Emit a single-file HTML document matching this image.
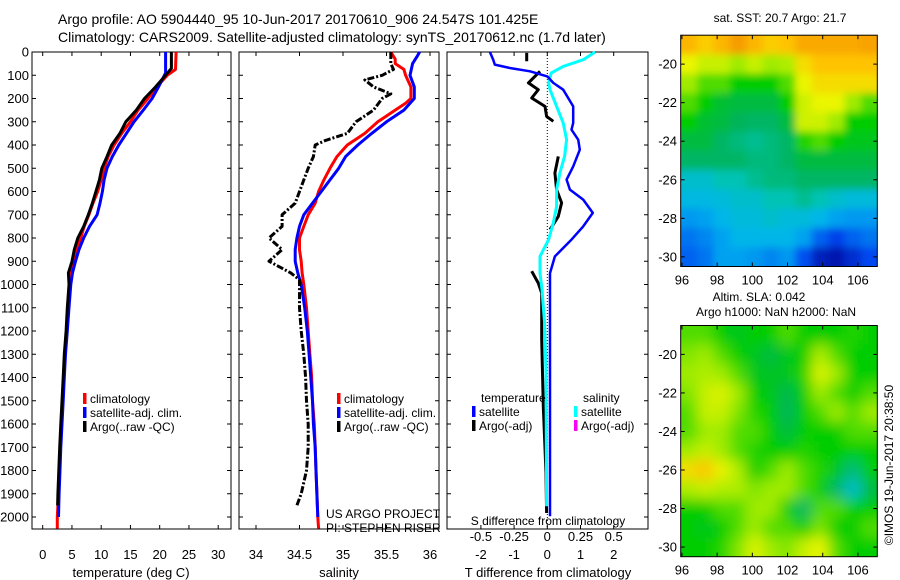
<!DOCTYPE html>
<html><head><meta charset="utf-8">
<style>
html,body{margin:0;padding:0;background:#fff;}
svg{display:block;font-family:"Liberation Sans",Arial,sans-serif;background:#fff;}
</style></head>
<body>
<svg id="fig" width="900" height="580" viewBox="0 0 900 580" xmlns="http://www.w3.org/2000/svg">
<text x="58" y="24" font-size="14">Argo profile: AO 5904440_95 10-Jun-2017 20170610_906 24.547S 101.425E</text>
<text x="58" y="42" font-size="14">Climatology: CARS2009. Satellite-adjusted climatology: synTS_20170612.nc (1.7d later)</text>
<text x="780" y="22" font-size="12" text-anchor="middle">sat. SST: 20.7 Argo: 21.7</text>
<text x="759" y="301" font-size="12" text-anchor="middle">Altim. SLA: 0.042</text>
<text x="776" y="316" font-size="12" text-anchor="middle">Argo h1000: NaN h2000: NaN</text>
<text x="0" y="0" font-size="12" text-anchor="middle" transform="translate(893,465) rotate(-90)">©IMOS 19-Jun-2017 20:38:50</text>
<text x="326" y="518" font-size="12">US ARGO PROJECT</text>
<text x="326" y="532" font-size="12">PI: STEPHEN RISER</text>
<text x="548" y="525" font-size="12" text-anchor="middle">S difference from climatology</text>
</svg>
<script>
// ---------- data ----------
const tempDepth = [0,75,100,150,200,250,300,350,400,450,500,550,600,650,700,750,800,850,900,950,1000,1100,1200,1300,1400,1500,1600,1700,1800,1900,2000,2050];
const tempClim  = [22.8,22.7,21.3,19.5,18.0,16.3,15.0,13.5,12.2,11.2,10.5,10.0,9.4,8.6,7.9,7.1,6.5,5.8,5.2,4.9,4.7,4.4,4.1,3.8,3.6,3.4,3.2,3.0,2.85,2.7,2.5,2.5];
const tempSatDepth = [0,90,100,150,200,250,300,350,400,450,500,550,600,650,700,750,800,850,900,950,1000,1100,1200,1300,1400,1500,1600,1700,1800,1900,2000];
const tempSat   = [21.0,21.0,20.8,19.8,18.7,17.2,15.6,14.3,13.0,11.9,11.0,10.5,10.2,9.8,9.3,8.0,7.0,6.2,5.6,5.1,4.8,4.5,4.2,3.9,3.7,3.5,3.3,3.1,2.95,2.8,2.7];
const tempArgoDepth = [0,70,100,150,200,250,300,350,400,450,500,550,600,650,700,750,800,850,900,950,1000,1100,1200,1300,1400,1500,1600,1700,1800,1900,1950];
const tempArgo  = [22.0,22.0,21.0,19.3,17.4,16.0,14.2,13.2,11.8,11.0,10.1,9.7,9.1,8.5,7.8,7.0,6.0,5.4,5.0,4.4,4.5,4.2,4.0,3.7,3.5,3.3,3.1,2.9,2.75,2.6,2.55];

const salDepth = [0,30,50,75,100,150,200,220,250,300,350,400,450,500,550,600,650,700,750,800,850,900,950,1000,1100,1200,1300,1400,1500,1600,1700,1800,1900,2000,2050];
const salClim  = [35.55,35.6,35.6,35.7,35.72,35.78,35.78,35.72,35.6,35.4,35.25,35.05,34.93,34.85,34.78,34.72,34.68,34.6,34.55,34.5,34.5,34.52,34.53,34.55,34.58,34.6,34.62,34.64,34.65,34.67,34.68,34.69,34.7,34.71,34.72];
const salSatDepth = [0,20,50,100,150,200,250,300,350,400,450,500,550,600,650,700,750,800,850,900,950,1000,1100,1200,1300,1400,1500,1600,1700,1800,1900,2000];
const salSat   = [35.88,35.85,35.8,35.77,35.82,35.82,35.7,35.5,35.33,35.17,35.03,34.95,34.85,34.75,34.65,34.55,34.5,34.47,34.45,34.45,34.48,34.52,34.56,34.59,34.61,34.63,34.65,34.66,34.68,34.69,34.7,34.71];
const salArgoDepth = [0,50,75,100,120,150,180,200,250,300,350,380,400,450,500,550,600,650,700,750,800,850,900,950,980,1000,1100,1200,1300,1400,1500,1600,1700,1800,1900,1950];
const salArgo  = [35.55,35.55,35.58,35.45,35.25,35.35,35.55,35.45,35.35,35.15,35.05,34.8,34.68,34.66,34.6,34.55,34.5,34.45,34.3,34.3,34.15,34.3,34.15,34.4,34.5,34.5,34.5,34.52,34.55,34.57,34.58,34.6,34.6,34.58,34.52,34.47];

const tDiffSatDepth = [0,33,54,69,83,105,133,162,234,305,334,377,420,492,549,592,635,692,750,807,879,951,1094,1997];
const tDiffSat = [-1.73,-1.63,-1.58,-1.13,-0.52,0,0.18,0.48,0.78,0.78,0.73,0.93,0.98,0.78,0.58,0.68,1.08,1.37,1.08,0.73,0.23,0.08,0.08,0.08];
const tDiffArgoDepth = [4,40,null,83,133,162,198,234,277,298,null,449,520,592,649,707,764,null,943,994,1037,1137,1237,1524,1811,1983];
const tDiffArgo = [-0.62,-0.62,null,-0.22,-0.57,-0.27,-0.47,-0.07,-0.02,0.18,null,0.33,0.23,0.28,0.43,0.33,0.08,null,-0.47,-0.27,-0.17,-0.17,-0.17,-0.12,-0.04,-0.02];
const sDiffSatDepth = [0,33,62,90,133,162,234,305,377,449,520,592,664,735,807,879,951,1022,1166,1381,1954];
const sDiffSat = [0.36,0.27,0.12,0.03,0.01,0.02,0.07,0.12,0.145,0.13,0.095,0.07,0.07,0.045,0.01,-0.055,-0.055,-0.04,-0.02,-0.01,-0.005];

const depthTicks = [0,100,200,300,400,500,600,700,800,900,1000,1100,1200,1300,1400,1500,1600,1700,1800,1900,2000];
const tempTicks = [0,5,10,15,20,25,30];
const salTicks = [34,34.5,35,35.5,36];
const salTickLabels = ["34","34.5","35","35.5","36"];
const tDiffTicks = [-2,-1,0,1,2];
const sDiffTicks = [-0.5,-0.25,0,0.25,0.5];
const sDiffTickLabels = ["-0.5","-0.25","0","0.25","0.5"];
const latTicks = [-20,-22,-24,-26,-28,-30];
const lonTicks = [96,98,100,102,104,106];

const sstGrid = [
[0.82,0.78,0.82,0.86,0.82,0.78,0.8,0.84,0.84,0.84,0.84,0.85],
[0.7,0.65,0.65,0.6,0.65,0.6,0.62,0.75,0.8,0.8,0.8,0.8],
[0.6,0.55,0.55,0.5,0.5,0.5,0.55,0.7,0.75,0.75,0.75,0.75],
[0.55,0.5,0.46,0.45,0.45,0.45,0.5,0.66,0.7,0.7,0.6,0.55],
[0.5,0.46,0.45,0.43,0.42,0.42,0.45,0.66,0.66,0.6,0.5,0.5],
[0.45,0.45,0.42,0.4,0.38,0.4,0.42,0.52,0.55,0.5,0.48,0.48],
[0.42,0.42,0.42,0.42,0.4,0.4,0.42,0.45,0.45,0.45,0.45,0.45],
[0.32,0.32,0.35,0.35,0.38,0.4,0.4,0.42,0.42,0.42,0.42,0.42],
[0.29,0.29,0.3,0.32,0.32,0.35,0.35,0.38,0.35,0.32,0.3,0.3],
[0.24,0.25,0.28,0.3,0.3,0.32,0.3,0.3,0.28,0.25,0.24,0.24],
[0.2,0.22,0.25,0.28,0.28,0.28,0.28,0.25,0.18,0.14,0.18,0.2],
[0.18,0.2,0.25,0.25,0.24,0.22,0.24,0.16,0.07,0.05,0.1,0.15]];
const slaGrid = [
[0.55,0.55,0.5,0.48,0.5,0.5,0.55,0.5,0.5,0.5,0.52,0.5],
[0.58,0.6,0.55,0.5,0.48,0.45,0.48,0.5,0.62,0.55,0.5,0.5],
[0.6,0.62,0.6,0.55,0.48,0.47,0.48,0.52,0.68,0.6,0.5,0.5],
[0.58,0.65,0.68,0.6,0.5,0.48,0.44,0.5,0.6,0.55,0.5,0.55],
[0.55,0.65,0.65,0.58,0.52,0.5,0.43,0.5,0.55,0.6,0.55,0.6],
[0.55,0.6,0.6,0.55,0.55,0.5,0.45,0.5,0.5,0.5,0.55,0.55],
[0.6,0.65,0.6,0.55,0.52,0.5,0.5,0.52,0.5,0.5,0.5,0.5],
[0.75,0.8,0.7,0.62,0.5,0.55,0.6,0.55,0.52,0.48,0.4,0.5],
[0.62,0.65,0.62,0.62,0.58,0.6,0.6,0.55,0.5,0.42,0.32,0.45],
[0.5,0.5,0.55,0.55,0.6,0.6,0.5,0.42,0.55,0.55,0.5,0.5],
[0.5,0.48,0.5,0.55,0.6,0.55,0.55,0.5,0.58,0.5,0.5,0.55],
[0.5,0.5,0.52,0.58,0.68,0.6,0.58,0.65,0.7,0.55,0.5,0.5]];

// ---------- helpers ----------
const svg = document.getElementById('fig');
const NS = 'http://www.w3.org/2000/svg';
function mk(tag, attrs, parent){ const e=document.createElementNS(NS,tag); for(const k in attrs) e.setAttribute(k,attrs[k]); (parent||svg).appendChild(e); return e; }
const Y0=52, YB=529;
const yD = d => Y0 + d*0.2325;
const xT = t => 42.7 + t*5.85;
const xS = s => 256 + (s-34)*87;
const xDT = t => 547.3 + t*33.2;
const xDS = s => 547.3 + s*4*33.2;
const panels = [{x0:32,x1:231,name:'temperature-panel'},{x0:239,x1:439,name:'salinity-panel'},{x0:447,x1:648,name:'difference-panel'}];

function pathFrom(ds, vs, fx){
  let d='', pen=false;
  for(let i=0;i<ds.length;i++){
    if(ds[i]===null||vs[i]===null){pen=false;continue;}
    d += (pen?'L':'M') + fx(vs[i]).toFixed(1) + ' ' + yD(ds[i]).toFixed(1) + ' ';
    pen=true;
  }
  return d;
}
function series(ds, vs, fx, color, name, dash, w){
  const p = mk('path',{d:pathFrom(ds,vs,fx),fill:'none',stroke:color,'stroke-width':w||3,'stroke-linejoin':'round'});
  if(dash) p.setAttribute('stroke-dasharray',dash);
  
  
}

panels.forEach((P,pi)=>{
  const r = mk('rect',{x:P.x0,y:Y0,width:P.x1-P.x0,height:YB-Y0,fill:'none',stroke:'#000','stroke-width':1});
  
  
  depthTicks.forEach(d=>{
    const t1 = mk('line',{x1:P.x0,x2:P.x0+4,y1:yD(d),y2:yD(d),stroke:'#000'});
    
    
    const t2 = mk('line',{x1:P.x1-4,x2:P.x1,y1:yD(d),y2:yD(d),stroke:'#000'});
    
    
    if(pi===0){
      const lb = mk('text',{x:29,y:yD(d)+4.5,'font-size':13,'text-anchor':'end'});
      lb.textContent = String(d);
      
      
    }
  });
});

function xticks(P, vals, labels, fx, ly, name){
  vals.forEach((v,i)=>{
    const x=fx(v);
    const a = mk('line',{x1:x,x2:x,y1:YB,y2:YB-4,stroke:'#000'});
    
    
    const b = mk('line',{x1:x,x2:x,y1:Y0,y2:Y0+4,stroke:'#000'});
    
    
    const t = mk('text',{x:x,y:ly,'font-size':13,'text-anchor':'middle'});
    t.textContent = labels[i];
    
    
  });
}
xticks(panels[0], tempTicks, tempTicks.map(String), xT, 559, 'temperature');
xticks(panels[1], salTicks, salTickLabels, xS, 559, 'salinity');
xticks(panels[2], tDiffTicks, tDiffTicks.map(String), xDT, 559, 't-diff');
sDiffTicks.forEach((v,i)=>{
  const t = mk('text',{x:xDS(v),y:541,'font-size':13,'text-anchor':'middle'});
  t.textContent = sDiffTickLabels[i];
  
  
});
[['temperature (deg C)',131,'temperature-axis-title'],['salinity',339,'salinity-axis-title'],['T difference from climatology',548,'t-diff-axis-title']].forEach(a=>{
  const t = mk('text',{x:a[1],y:577,'font-size':13,'text-anchor':'middle'});
  t.textContent = a[0];
  
  
});

const zl = mk('line',{x1:xDT(0),x2:xDT(0),y1:Y0,y2:YB,stroke:'#000','stroke-dasharray':'1 2'});



series(tempDepth,tempClim,xT,'#ff0000','temperature-climatology-line');
series(tempSatDepth,tempSat,xT,'#0000ff','temperature-satellite-line');
series(tempArgoDepth,tempArgo,xT,'#000000','temperature-argo-line');
series(salDepth,salClim,xS,'#ff0000','salinity-climatology-line');
series(salSatDepth,salSat,xS,'#0000ff','salinity-satellite-line');
series(salArgoDepth,salArgo,xS,'#000000','salinity-argo-line','7 2 2 2');
series(tDiffArgoDepth,tDiffArgo,xDT,'#000000','t-diff-argo-line');
series(sDiffSatDepth,sDiffSat,xDS,'#00ffff','s-diff-satellite-line');
series(tDiffSatDepth,tDiffSat,xDT,'#0000ff','t-diff-satellite-line',null,2.5);

function legend(x, y, color, label, name){
  const m = mk('rect',{x:x,y:y-10,width:3.5,height:11,fill:color});
  
  
  const t = mk('text',{x:x+7,y:y,'font-size':12});
  t.textContent = label;
  
  
}
legend(83,403,'#ff0000','climatology','legend-climatology');
legend(83,417,'#0000ff','satellite-adj. clim.','legend-satellite-adj');
legend(83,431,'#000000','Argo(..raw -QC)','legend-argo');
legend(337,403,'#ff0000','climatology','legend-sal-climatology');
legend(337,417,'#0000ff','satellite-adj. clim.','legend-sal-satellite-adj');
legend(337,431,'#000000','Argo(..raw -QC)','legend-sal-argo');
const lt = mk('text',{x:481,y:402,'font-size':12}); lt.textContent='temperature';


const ls = mk('text',{x:583,y:402,'font-size':12}); ls.textContent='salinity';


legend(472,416,'#0000ff','satellite','legend-t-satellite');
legend(472,430,'#000000','Argo(-adj)','legend-t-argo');
legend(574,416,'#00ffff','satellite','legend-s-satellite');
legend(574,430,'#ff00ff','Argo(-adj)','legend-s-argo');

const stops = [[0,[0,0,140]],[0.15,[0,70,240]],[0.27,[0,180,240]],[0.35,[0,195,180]],[0.43,[0,180,90]],[0.5,[0,205,0]],[0.6,[160,235,0]],[0.7,[235,245,0]],[0.8,[255,195,0]],[0.9,[240,130,0]],[1,[200,60,0]]];
function cmap(v){
  for(let i=1;i<stops.length;i++){
    if(v<=stops[i][0]){
      const a=stops[i-1],b=stops[i],f=(v-a[0])/(b[0]-a[0]);
      const c=a[1].map((q,k)=>Math.round(q+(b[1][k]-q)*f));
      return 'rgb('+c.join(',')+')';
    }
  }
  return 'rgb(200,60,0)';
}
const defs = mk('defs',{});
function drawMap(grid, top, bottom, name, blur){
  const X0=680.7, X1=877.3;
  const lonX = lon => X0 + (lon-95.93)*17.6;
  const latY = lat => top + (-18.5-lat)*(bottom-top)/12;
  const cp = mk('clipPath',{id:name+'-clip'},defs);
  mk('rect',{x:X0,y:top,width:X1-X0,height:bottom-top},cp);
  const f = mk('filter',{id:name+'-blur',x:'-10%',y:'-10%',width:'120%',height:'120%'},defs);
  mk('feGaussianBlur',{stdDeviation:blur},f);
  const outer = mk('g',{'clip-path':'url(#'+name+'-clip)'});
  
  
  const g = mk('g',{filter:'url(#'+name+'-blur)'},outer);
  const cw=(X1-X0)/12, ch=(bottom-top)/12;
  grid.forEach((row,r)=>row.forEach((v,c)=>{
    let x=X0+c*cw, y=top+r*ch, w=cw+0.6, h=ch+0.6;
    if(c===0){x-=15;w+=15;} if(c===11){w+=15;}
    if(r===0){y-=15;h+=15;} if(r===11){h+=15;}
    const cell = mk('rect',{x:x,y:y,width:w,height:h,fill:cmap(v)},g);
    
    
  }));
  const fr = mk('rect',{x:X0,y:top,width:X1-X0,height:bottom-top,fill:'none',stroke:'#000'});
  
  
  latTicks.forEach(lat=>{
    const y=latY(lat);
    const a = mk('line',{x1:X0,x2:X0+4,y1:y,y2:y,stroke:'#000'});
    
    
    const b = mk('line',{x1:X1-4,x2:X1,y1:y,y2:y,stroke:'#000'});
    
    
    const t = mk('text',{x:677,y:y+4.5,'font-size':13,'text-anchor':'end'});
    t.textContent = String(lat);
    
    
  });
  lonTicks.forEach(lon=>{
    const x=lonX(lon);
    const a = mk('line',{x1:x,x2:x,y1:bottom,y2:bottom-4,stroke:'#000'});
    
    
    const b = mk('line',{x1:x,x2:x,y1:top,y2:top+4,stroke:'#000'});
    
    
    const t = mk('text',{x:x,y:bottom+18,'font-size':13,'text-anchor':'middle'});
    t.textContent = String(lon);
    
    
  });
}
drawMap(sstGrid, 35.2, 266.5, 'sst-map', 4);
drawMap(slaGrid, 325.5, 556.7, 'sla-map', 7);
</script>
</body></html>
